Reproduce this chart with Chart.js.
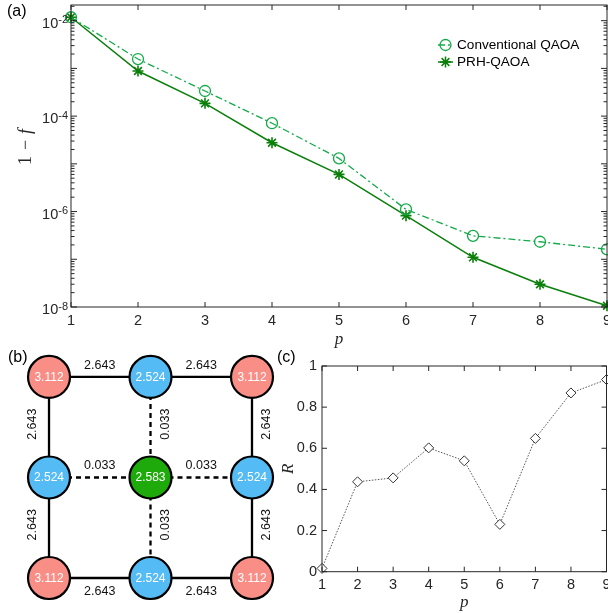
<!DOCTYPE html>
<html>
<head>
<meta charset="utf-8">
<script src="https://cdn.jsdelivr.net/npm/chart.js"></script>
<style>
  html, body { margin: 0; padding: 0; background: #fff; }
  #wrap { position: relative; width: 608px; height: 613px; overflow: hidden; }
  .pane { position: absolute; }
</style>
</head>
<body>
<div id="wrap">
  <div class="pane" style="left:0;top:0;width:608px;height:350px"><canvas id="fidelityChart"></canvas></div>
  <div class="pane" style="left:0;top:345px;width:300px;height:268px"><canvas id="latticeChart"></canvas></div>
  <div class="pane" style="left:270px;top:345px;width:338px;height:268px"><canvas id="ratioChart"></canvas></div>
</div>
<script>
// data (a): infidelity 1 - f vs depth p
const pSteps = [1, 2, 3, 4, 5, 6, 7, 8, 9];
const conventionalInfidelity = [1.18e-2, 1.57e-3, 3.36e-4, 7.1e-5, 1.30e-5, 1.11e-6, 3.1e-7, 2.33e-7, 1.62e-7];
const prhInfidelity = [1.18e-2, 8.8e-4, 1.85e-4, 2.77e-5, 6.0e-6, 8.2e-7, 1.10e-7, 3.0e-8, 1.06e-8];
const infidelityExponents = [-2, -4, -6, -8];

// data (c): ratio R vs p
const ratioR = [0.016, 0.437, 0.456, 0.602, 0.539, 0.23, 0.648, 0.869, 0.934];
const ratioTicks = [0, 0.2, 0.4, 0.6, 0.8, 1];

// data (b): 3x3 lattice, node values and couplings
const nodeCol = [0, 1, 2, 0, 1, 2, 0, 1, 2];
const nodeRow = [0, 0, 0, 1, 1, 1, 2, 2, 2];
const nodeValue = ['3.112', '2.524', '3.112', '2.524', '2.583', '2.524', '3.112', '2.524', '3.112'];
const edgeFrom = [0, 1, 0, 3, 2, 5, 6, 7, 1, 3, 4, 4];
const edgeTo = [1, 2, 3, 6, 5, 8, 7, 8, 4, 4, 5, 7];
const edgeWeight = ['2.643', '2.643', '2.643', '2.643', '2.643', '2.643', '2.643', '2.643', '0.033', '0.033', '0.033', '0.033'];

const axisInk = '#262626';
const sansFont = "'Liberation Sans', Arial, sans-serif";
const serifFont = "'Liberation Serif', 'Times New Roman', serif";
const convGreen = '#14aa4a';
const prhGreen = '#0a7f0a';
const nodeFill = { '3.112': '#f98e87', '2.524': '#54bbf4', '2.583': '#1eaa0a' };

// matlab style box: frame, inward ticks on all sides, panel letter
function matlabBox(letter, lx, ly, logY) {
    return {
        id: 'matlabBox',
        afterDraw(chart) {
            const { ctx, chartArea: a, scales: { x, y } } = chart;
            ctx.save();
            ctx.strokeStyle = axisInk;
            ctx.lineWidth = 1;
            ctx.strokeRect(a.left, a.top, a.width, a.height);
            ctx.beginPath();
            x.ticks.forEach(t => {
                const px = x.getPixelForValue(t.value);
                ctx.moveTo(px, a.bottom); ctx.lineTo(px, a.bottom - 5);
                ctx.moveTo(px, a.top); ctx.lineTo(px, a.top + 5);
            });
            let marks = y.ticks.map(t => ({ v: t.value, len: 5 }));
            if (logY) {
                marks = [];
                for (let e = Math.floor(Math.log10(y.min)); e <= Math.ceil(Math.log10(y.max)); e++) {
                    for (let k = 1; k <= 9; k++) {
                        const v = k * Math.pow(10, e);
                        if (v >= y.min && v <= y.max) marks.push({ v: v, len: k === 1 ? 6 : 3.5 });
                    }
                }
            }
            marks.forEach(m => {
                const py = y.getPixelForValue(m.v);
                ctx.moveTo(a.left, py); ctx.lineTo(a.left + m.len, py);
                ctx.moveTo(a.right, py); ctx.lineTo(a.right - m.len, py);
            });
            ctx.stroke();
            if (logY) {
                // 10^n labels
                ctx.fillStyle = axisInk;
                ctx.textAlign = 'left';
                ctx.textBaseline = 'alphabetic';
                infidelityExponents.forEach(e => {
                    const py = y.getPixelForValue(Math.pow(10, e));
                    ctx.font = '11px ' + sansFont;
                    const ex = String(e);
                    const exW = ctx.measureText(ex).width;
                    const exX = a.left - 3 - exW;
                    ctx.fillText(ex, exX, py + 2.5);
                    ctx.font = '14.5px ' + sansFont;
                    const baseW = ctx.measureText('10').width;
                    ctx.fillText('10', exX - baseW, py + 7);
                });
                // y title 1 - f
                ctx.translate(26, 147);
                ctx.rotate(-Math.PI / 2);
                const parts = [['1', ''], ['\u2212', ''], ['f', 'italic ']];
                let total = 0;
                const widths = parts.map(p => {
                    ctx.font = p[1] + '18px ' + serifFont;
                    const w = ctx.measureText(p[0]).width;
                    total += w;
                    return w;
                });
                total += 12;
                let cx = -total / 2;
                ctx.textBaseline = 'middle';
                parts.forEach((p, i) => {
                    ctx.font = p[1] + '18px ' + serifFont;
                    ctx.fillText(p[0], cx, 0);
                    cx += widths[i] + 6;
                });
                ctx.setTransform(1, 0, 0, 1, 0, 0);
            }
            ctx.fillStyle = '#000';
            ctx.font = '16px ' + sansFont;
            ctx.textAlign = 'left';
            ctx.textBaseline = 'middle';
            ctx.fillText(letter, lx, ly);
            ctx.restore();
        }
    };
}

// legend of panel (a), no box
const fidelityLegend = {
    id: 'fidelityLegend',
    afterDraw(chart) {
        const ctx = chart.ctx;
        ctx.save();
        chart.data.datasets.forEach((ds, i) => {
            const yy = 45 + i * 17;
            ctx.strokeStyle = ds.borderColor;
            ctx.lineWidth = ds.borderWidth;
            ctx.setLineDash(ds.borderDash || []);
            ctx.beginPath(); ctx.moveTo(438, yy); ctx.lineTo(453, yy); ctx.stroke();
            ctx.setLineDash([]);
            Chart.helpers.drawPoint(ctx, {
                pointStyle: ds.pointStyle, radius: ds.pointRadius, borderWidth: ds.pointBorderWidth, rotation: 0
            }, 445.5, yy);
            ctx.fillStyle = '#000';
            ctx.font = '13.6px ' + sansFont;
            ctx.textAlign = 'left';
            ctx.textBaseline = 'middle';
            ctx.fillText(ds.label, 457, yy + 0.5);
        });
        ctx.restore();
    }
};

// fixed axis band, no extra room for edge labels
function fixHeight(h) {
    return function (s) { s.height = h; s.paddingLeft = 0; s.paddingRight = 0; };
}

// (a) Infidelity
new Chart(document.getElementById('fidelityChart'), {
    type: 'line',
    data: {
        datasets: [{
            label: 'Conventional QAOA',
            data: pSteps.map((p, i) => ({ x: p, y: conventionalInfidelity[i] })),
            borderColor: convGreen,
            borderWidth: 1.3,
            borderDash: [7, 3, 2, 3],
            pointStyle: 'circle',
            pointRadius: 5.5,
            pointBorderWidth: 1.3,
            pointBorderColor: convGreen,
            pointBackgroundColor: 'rgba(0,0,0,0)',
            clip: false
        }, {
            label: 'PRH-QAOA',
            data: pSteps.map((p, i) => ({ x: p, y: prhInfidelity[i] })),
            borderColor: prhGreen,
            borderWidth: 1.5,
            pointStyle: 'star',
            pointRadius: 5.5,
            pointBorderWidth: 1.6,
            pointBorderColor: prhGreen,
            pointBackgroundColor: prhGreen,
            clip: false
        }]
    },
    options: {
        responsive: true, maintainAspectRatio: false, animation: false, events: [],
        layout: { autoPadding: false, padding: { top: 5, right: 1, left: 0, bottom: 0 } },
        plugins: { legend: { display: false }, tooltip: { enabled: false } },
        scales: {
            x: {
                type: 'linear', min: 1, max: 9,
                afterFit: fixHeight(43),
                grid: { display: false, drawTicks: false }, border: { display: false },
                ticks: { stepSize: 1, padding: 5, color: axisInk, font: { family: sansFont, size: 14.5 } },
                title: { display: true, text: 'p', color: axisInk, padding: 0, font: { family: serifFont, style: 'italic', size: 17 } }
            },
            y: {
                type: 'logarithmic', min: 1e-8, max: 0.0213,
                afterFit(s) { s.width = 71; },
                afterBuildTicks(s) { s.ticks = infidelityExponents.map(e => ({ value: Math.pow(10, e) })); },
                grid: { display: false, drawTicks: false }, border: { display: false },
                ticks: { display: false }
            }
        }
    },
    plugins: [matlabBox('(a)', 7, 12, true), fidelityLegend]
});

// (b) lattice
const nodePoints = nodeCol.map((c, i) => ({ x: c, y: nodeRow[i] }));
const edgeSets = edgeFrom.map((f, i) => ({
    data: [nodePoints[f], nodePoints[edgeTo[i]]],
    showLine: true,
    borderColor: '#000',
    borderWidth: 2.3,
    borderDash: parseFloat(edgeWeight[i]) < 1 ? [5, 4] : [],
    pointRadius: 0,
    order: 1
}));

const latticeLabels = {
    id: 'latticeLabels',
    afterDraw(chart) {
        const { ctx, scales: { x, y } } = chart;
        const px = i => x.getPixelForValue(nodeCol[i]);
        const py = i => y.getPixelForValue(nodeRow[i]);
        ctx.save();
        ctx.textAlign = 'center';
        ctx.textBaseline = 'middle';
        ctx.fillStyle = '#fff';
        ctx.font = '12px ' + sansFont;
        nodeValue.forEach((v, i) => ctx.fillText(v, px(i), py(i) + 0.5));
        ctx.fillStyle = '#111';
        ctx.font = '12.5px ' + sansFont;
        edgeFrom.forEach((f, i) => {
            const t = edgeTo[i];
            const mx = (px(f) + px(t)) / 2;
            const my = (py(f) + py(t)) / 2;
            if (nodeRow[f] === nodeRow[t]) {
                ctx.fillText(edgeWeight[i], mx, my + (nodeRow[f] === 2 ? 14 : -11.5));
            } else {
                ctx.save();
                ctx.translate(mx + (nodeCol[f] === 0 ? -16 : 15), my - 3);
                ctx.rotate(-Math.PI / 2);
                ctx.fillText(edgeWeight[i], 0, 0);
                ctx.restore();
            }
        });
        ctx.fillStyle = '#000';
        ctx.font = '16px ' + sansFont;
        ctx.textAlign = 'left';
        ctx.fillText('(b)', 8, 13);
        ctx.restore();
    }
};

new Chart(document.getElementById('latticeChart'), {
    type: 'scatter',
    data: {
        datasets: [{
            data: nodePoints,
            pointRadius: 21,
            pointBorderWidth: 2.2,
            pointBorderColor: '#000',
            pointBackgroundColor: nodeValue.map(v => nodeFill[v]),
            clip: false,
            order: 0
        }].concat(edgeSets)
    },
    options: {
        responsive: true, maintainAspectRatio: false, animation: false, events: [],
        layout: { autoPadding: false, padding: 0 },
        plugins: { legend: { display: false }, tooltip: { enabled: false } },
        scales: {
            x: { type: 'linear', display: false, min: -0.483, max: 2.473 },
            y: { type: 'linear', display: false, reverse: true, min: -0.318, max: 2.348 }
        }
    },
    plugins: [latticeLabels]
});

// (c) R
new Chart(document.getElementById('ratioChart'), {
    type: 'line',
    data: {
        datasets: [{
            label: 'R',
            data: pSteps.map((p, i) => ({ x: p, y: ratioR[i] })),
            borderColor: '#555',
            borderWidth: 1,
            borderDash: [1.5, 1.5],
            pointStyle: 'rectRot',
            pointRadius: 5,
            pointBorderWidth: 1,
            pointBorderColor: '#333',
            pointBackgroundColor: '#fff',
            clip: false
        }]
    },
    options: {
        responsive: true, maintainAspectRatio: false, animation: false, events: [],
        layout: { autoPadding: false, padding: { top: 21, right: 1.5, left: 0, bottom: 0 } },
        plugins: { legend: { display: false }, tooltip: { enabled: false } },
        scales: {
            x: {
                type: 'linear', min: 1, max: 9,
                afterFit: fixHeight(41.3),
                grid: { display: false, drawTicks: false }, border: { display: false },
                ticks: { stepSize: 1, padding: 5, color: axisInk, font: { family: sansFont, size: 14.5 } },
                title: { display: true, text: 'p', color: axisInk, padding: 0, font: { family: serifFont, style: 'italic', size: 17 } }
            },
            y: {
                type: 'linear', min: 0, max: 1,
                afterFit(s) { s.width = 52; },
                afterBuildTicks(s) { s.ticks = ratioTicks.map(v => ({ value: v })); },
                grid: { display: false, drawTicks: false }, border: { display: false },
                ticks: { padding: 5, color: axisInk, font: { family: sansFont, size: 14.5 }, callback: v => String(v) },
                title: { display: true, text: 'R', color: axisInk, padding: { top: 8, bottom: 0 }, font: { family: serifFont, style: 'italic', size: 17 } }
            }
        }
    },
    plugins: [matlabBox('(c)', 7, 13, false)]
});
</script>
</body>
</html>
